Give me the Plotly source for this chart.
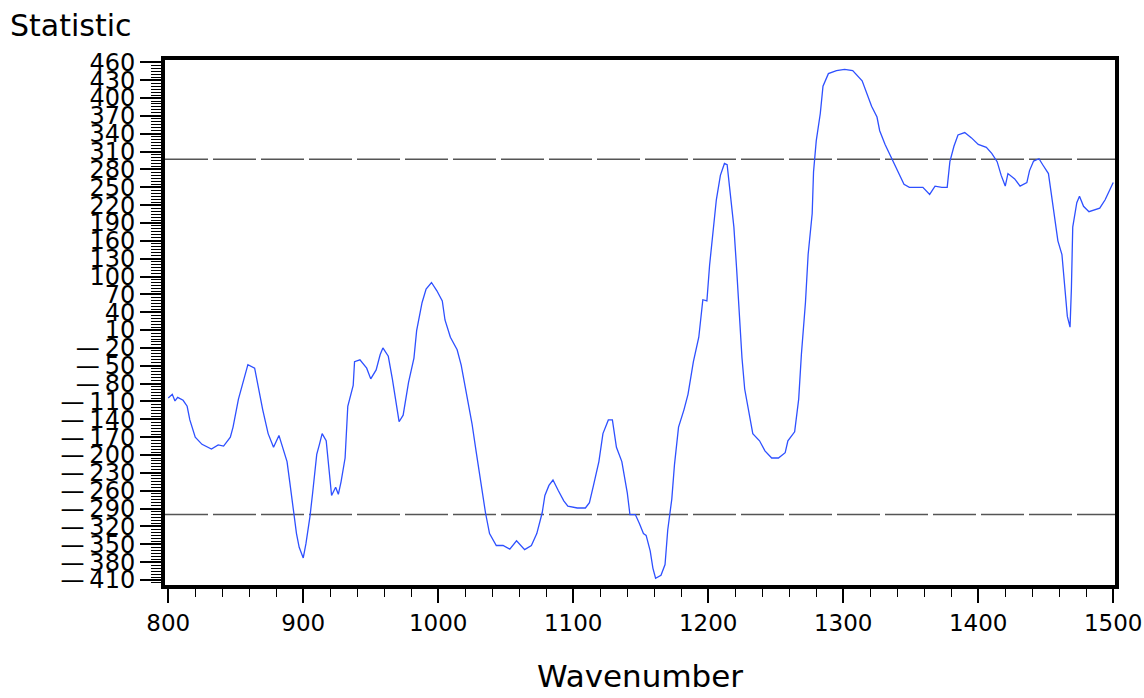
import plotly.graph_objects as go

# ---- data ----
wavenumber = [
    800, 803, 805, 807, 811, 814, 816, 820, 825, 832, 837, 841, 846, 848, 852, 856, 859, 864, 867, 870,
    874, 878, 882, 884, 888, 890, 893, 895, 897, 900, 902, 905, 907, 910, 912, 914, 917, 919, 921, 924,
    926, 928, 931, 933, 937, 938, 942, 947, 950, 954, 957, 959, 963, 966, 968, 971,
    974, 978, 982, 984, 988, 991, 995, 999, 1003, 1005, 1009, 1014, 1017, 1021, 1025, 1028, 1032, 1035,
    1038, 1043, 1048, 1053, 1058, 1064, 1069, 1073, 1077, 1079, 1082, 1085, 1089, 1093, 1096, 1103,
    1109, 1112, 1115, 1119, 1122, 1126, 1129, 1132, 1136, 1140, 1142, 1146, 1149,
    1152, 1154, 1157, 1159, 1161, 1165, 1168, 1170, 1173, 1175, 1178, 1182, 1185, 1189, 1193, 1196,
    1199, 1201, 1204, 1206, 1209, 1212, 1214, 1216, 1219, 1221, 1223, 1225, 1227, 1230, 1233, 1238,
    1242, 1247, 1252, 1257, 1259, 1264, 1267, 1269, 1272, 1274, 1277, 1278, 1280, 1283, 1285, 1289,
    1295, 1301, 1307, 1314, 1317, 1321, 1325, 1327,
    1331, 1336, 1341, 1345, 1349, 1354, 1359, 1364, 1368, 1373, 1377, 1379, 1382, 1385, 1390, 1395,
    1400, 1406, 1410, 1414, 1417, 1420, 1422, 1427, 1431, 1436, 1438, 1441, 1445, 1448, 1452, 1454,
    1457, 1459, 1462, 1464, 1466, 1468, 1469, 1470, 1473, 1475, 1478, 1482, 1487, 1490, 1494, 1500,
]
statistic = [
    -104, -98, -109, -103, -108, -118, -141, -170, -182, -190, -183, -185, -170, -153, -106, -72, -48, -54, -89, -124,
    -164, -187, -167, -182, -211, -245, -297, -332, -355, -373, -349, -303, -263, -199, -182, -164, -176, -222, -268, -254,
    -266, -245, -205, -118, -83, -43, -40, -54, -72, -57, -31, -20, -34, -72, -101, -144,
    -133, -78, -37, 9, 56, 79, 90, 76, 59, 27, -2, -23, -49, -95, -147, -193, -257, -297,
    -332, -352, -352, -358, -344, -359, -352, -332, -297, -268, -251, -242, -260, -277, -286, -289,
    -289, -280, -251, -211, -164, -141, -141, -187, -211, -263, -300, -300, -315,
    -332, -335, -361, -390, -407, -402, -384, -326, -274, -216, -153, -124, -98, -43, -2, 61,
    59, 119, 183, 229, 270, 290, 288, 241, 183, 114, 38, -37, -89, -130, -164, -176,
    -193, -205, -205, -196, -176, -161, -106, -31, 56, 137, 206, 276, 328, 374, 420, 441,
    446, 448, 446, 429, 409, 386, 368, 345,
    322, 299, 276, 255, 250, 250, 250, 238, 252, 250, 250, 293, 319, 338, 342, 333,
    322, 317, 307, 293, 270, 252, 273, 264, 252, 258, 278, 294, 298, 287, 273, 241,
    189, 160, 137, 79, 33, 15, 79, 183, 224, 235, 218, 209, 212, 215, 229, 258,
]
assert len(wavenumber) == len(statistic)

upper_limit = 297
lower_limit = -300

y_tick_values = list(range(-410, 461, 30))
y_tick_labels = [("\u2014\u2009" + str(abs(v))) if v < 0 else str(v) for v in y_tick_values]
x_tick_values = [800, 900, 1000, 1100, 1200, 1300, 1400, 1500]

FONT = "DejaVu Sans"

fig = go.Figure()
fig.add_trace(go.Scatter(
    x=wavenumber, y=statistic, mode="lines",
    line=dict(color="#2E50FF", width=1.3), showlegend=False, hoverinfo="skip",
))

for lim in (upper_limit, lower_limit):
    fig.add_shape(type="line", xref="paper", x0=0, x1=1, yref="y", y0=lim, y1=lim,
                  line=dict(color="#555555", width=1.5, dash="43px,5px"), layer="below")

fig.update_layout(
    width=1144, height=698,
    margin=dict(l=165, r=29, t=60, b=113),
    paper_bgcolor="white", plot_bgcolor="white",
    font=dict(family=FONT, color="black"),
    xaxis=dict(
        range=[797.6, 1501.3], showgrid=False, zeroline=False, automargin=False,
        showline=True, linewidth=4, linecolor="black", mirror=True,
        tickmode="array", tickvals=x_tick_values, ticktext=[str(v) for v in x_tick_values],
        ticks="outside", ticklen=14, tickwidth=1.5, tickcolor="black",
        tickfont=dict(family=FONT, size=23, color="black"),
        minor=dict(dtick=20, tick0=800, ticks="outside", ticklen=8, tickwidth=1.2,
                   tickcolor="black", showgrid=False),
    ),
    yaxis=dict(
        range=[-418.4, 463.9], showgrid=False, zeroline=False, automargin=False,
        showline=True, linewidth=4, linecolor="black", mirror=True,
        tickmode="array", tickvals=y_tick_values, ticktext=y_tick_labels,
        ticks="outside", ticklen=21, tickwidth=1.5, tickcolor="black",
        tickfont=dict(family=FONT, size=24, color="black"),
        minor=dict(dtick=5, tick0=0, ticks="outside", ticklen=10, tickwidth=1,
                   tickcolor="black", showgrid=False),
    ),
    annotations=[
        dict(text="Wavenumber", xref="paper", yref="paper", x=0.5, y=-0.173,
             xanchor="center", yanchor="middle", showarrow=False,
             font=dict(family=FONT, size=31, color="black")),
        dict(text="Statistic", xref="paper", yref="paper", x=-0.165, y=1.065,
             xanchor="left", yanchor="middle", showarrow=False,
             font=dict(family=FONT, size=30, color="black")),
    ],
)

fig.write_html("out.html")
